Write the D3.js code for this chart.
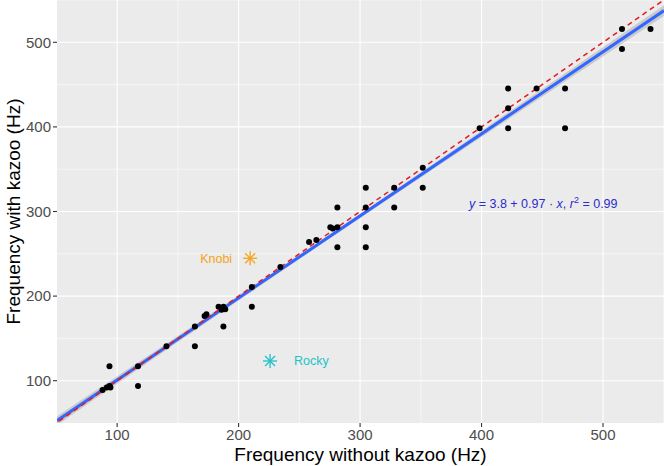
<!DOCTYPE html>
<html><head><meta charset="utf-8">
<script src="https://cdn.jsdelivr.net/npm/d3@7"></script>
<style>body{margin:0;background:#fff}svg{display:block;font-family:"Liberation Sans",Arial,sans-serif}</style>
</head><body><svg id="c" width="664" height="466"></svg>
<script>
// Data
const withoutKazoo = [88,91.5,93.7,94.5,93.7,117.2,117.2,140.6,164,164,172,173.5,183.5,187.5,186,189,187.5,210.9,210.9,234.4,258,264,275.5,277.5,281.3,281.3,281.3,304.7,304.7,304.7,304.7,328.1,328.1,351.6,351.6,398.4,421.9,421.9,421.9,445.3,468.75,468.75,515.6,515.6,539.1];
const withKazoo    = [89,92,93.7,92,117.2,117.2,93.7,140.6,164,140.6,176.4,178.5,187.5,187.5,184,184.5,164,210.9,187.5,234.4,264,266.3,281.3,280,281.3,304.7,257.8,328.1,304.7,281.3,257.8,328.1,304.7,351.6,328.1,398.4,445.3,421.9,398.4,445.3,445.3,398.4,515.6,492.2,515.6];
const outlierNames = ["Knobi","Rocky"];
const outlierX = [209.5,225.9];
const outlierY = [244.7,123.3];
const outlierColors = ["#F7A21B","#1EC2C8"];
const fitIntercept = 3.8, fitSlope = 0.97;
const xTicks = [100,200,300,400,500];
const yTicks = [100,200,300,400,500];
const minorTicks = [150,250,350,450,550];

const svg = d3.select("#c");
const P = {l:57, r:664, t:0, b:423};
const x = d3.scaleLinear().domain([50.5,550.2]).range([P.l,P.r]);
const y = d3.scaleLinear().domain([50,550]).range([P.b,P.t]);

svg.append("rect").attr("x",P.l).attr("y",P.t).attr("width",P.r-P.l).attr("height",P.b-P.t).attr("fill","#EBEBEB");
const g = svg.append("g");
minorTicks.forEach(v=>{
  g.append("line").attr("x1",x(v)).attr("x2",x(v)).attr("y1",P.t).attr("y2",P.b).attr("stroke","#fff").attr("stroke-width",0.55);
  g.append("line").attr("y1",y(v)).attr("y2",y(v)).attr("x1",P.l).attr("x2",P.r).attr("stroke","#fff").attr("stroke-width",0.55);
});
xTicks.forEach(v=>g.append("line").attr("x1",x(v)).attr("x2",x(v)).attr("y1",P.t).attr("y2",P.b).attr("stroke","#fff").attr("stroke-width",1.1));
yTicks.forEach(v=>g.append("line").attr("y1",y(v)).attr("y2",y(v)).attr("x1",P.l).attr("x2",P.r).attr("stroke","#fff").attr("stroke-width",1.1));

// confidence band from residuals
const n = withoutKazoo.length;
const mx = d3.mean(withoutKazoo);
const Sxx = d3.sum(withoutKazoo, v=>(v-mx)*(v-mx));
const s = Math.sqrt(d3.sum(withoutKazoo.map((v,i)=>Math.pow(withKazoo[i]-(fitIntercept+fitSlope*v),2)))/(n-2));
const xs = d3.range(101).map(i=>x.domain()[0]+i*(x.domain()[1]-x.domain()[0])/100);
const band = xs.map(v=>{const se=1.0*s*Math.sqrt(1/n+(v-mx)*(v-mx)/Sxx);const f=fitIntercept+fitSlope*v;return {v,lo:f-se,hi:f+se};});
svg.append("clipPath").attr("id","cp").append("rect").attr("x",P.l).attr("y",P.t).attr("width",P.r-P.l).attr("height",P.b-P.t);
const pl = svg.append("g").attr("clip-path","url(#cp)");
pl.append("path").datum(band).attr("d",d3.area().x(d=>x(d.v)).y0(d=>y(d.lo)).y1(d=>y(d.hi))).attr("fill","#999").attr("opacity",0.4);
pl.append("line").attr("x1",x(x.domain()[0])).attr("x2",x(x.domain()[1]))
  .attr("y1",y(fitIntercept+fitSlope*x.domain()[0])).attr("y2",y(fitIntercept+fitSlope*x.domain()[1]))
  .attr("stroke","#3366FF").attr("stroke-width",3);
pl.append("line").attr("x1",x(40)).attr("x2",x(560)).attr("y1",y(40)).attr("y2",y(560))
  .attr("stroke","#E41A1C").attr("stroke-width",1.5).attr("stroke-dasharray","5,4");

pl.selectAll("circle.pt").data(withoutKazoo).join("circle").attr("class","pt")
  .attr("cx",(d)=>x(d)).attr("cy",(d,i)=>y(withKazoo[i])).attr("r",3).attr("fill","#000");

// outlier stars
outlierNames.forEach((nm,i)=>{
  const cx=x(outlierX[i]), cy=y(outlierY[i]), r=7, r2=5;
  const st = svg.append("g").attr("stroke",outlierColors[i]).attr("stroke-width",1.3);
  st.append("line").attr("x1",cx-r).attr("x2",cx+r).attr("y1",cy).attr("y2",cy);
  st.append("line").attr("x1",cx).attr("x2",cx).attr("y1",cy-r).attr("y2",cy+r);
  st.append("line").attr("x1",cx-r2).attr("x2",cx+r2).attr("y1",cy-r2).attr("y2",cy+r2);
  st.append("line").attr("x1",cx-r2).attr("x2",cx+r2).attr("y1",cy+r2).attr("y2",cy-r2);
});
svg.append("text").attr("x",x(outlierX[0])-18).attr("y",y(outlierY[0])+4.5).attr("text-anchor","end")
  .attr("font-size",12.5).attr("fill",outlierColors[0]).text(outlierNames[0]);
svg.append("text").attr("x",x(outlierX[1])+24).attr("y",y(outlierY[1])+4.5).attr("text-anchor","start")
  .attr("font-size",12.5).attr("fill",outlierColors[1]).text(outlierNames[1]);

// equation
const eq = svg.append("text").attr("x",469).attr("y",208).attr("font-size",12.5).attr("fill","#2B2BCC");
eq.append("tspan").attr("font-style","italic").text("y");
eq.append("tspan").text(" = 3.8 + 0.97 · ");
eq.append("tspan").attr("font-style","italic").text("x");
eq.append("tspan").text(",  ");
eq.append("tspan").attr("font-style","italic").text("r");
eq.append("tspan").attr("dy",-5).attr("font-size",9).text("2");
eq.append("tspan").attr("dy",5).text(" = 0.99");

// axes
xTicks.forEach(v=>{
  svg.append("line").attr("x1",x(v)).attr("x2",x(v)).attr("y1",P.b).attr("y2",P.b+4).attr("stroke","#333").attr("stroke-width",1.1);
  svg.append("text").attr("x",x(v)).attr("y",P.b+17).attr("text-anchor","middle").attr("font-size",15).attr("fill","#4D4D4D").text(v);
});
yTicks.forEach(v=>{
  svg.append("line").attr("x1",P.l-4).attr("x2",P.l).attr("y1",y(v)).attr("y2",y(v)).attr("stroke","#333").attr("stroke-width",1.1);
  svg.append("text").attr("x",P.l-6).attr("y",y(v)+5.3).attr("text-anchor","end").attr("font-size",15).attr("fill","#4D4D4D").text(v);
});
svg.append("text").attr("x",(P.l+P.r)/2).attr("y",461).attr("text-anchor","middle").attr("font-size",19).attr("fill","#000").text("Frequency without kazoo (Hz)");
svg.append("text").attr("transform",`translate(20,${(P.t+P.b)/2}) rotate(-90)`).attr("text-anchor","middle").attr("font-size",19).attr("fill","#000").text("Frequency with kazoo (Hz)");
</script></body></html>
